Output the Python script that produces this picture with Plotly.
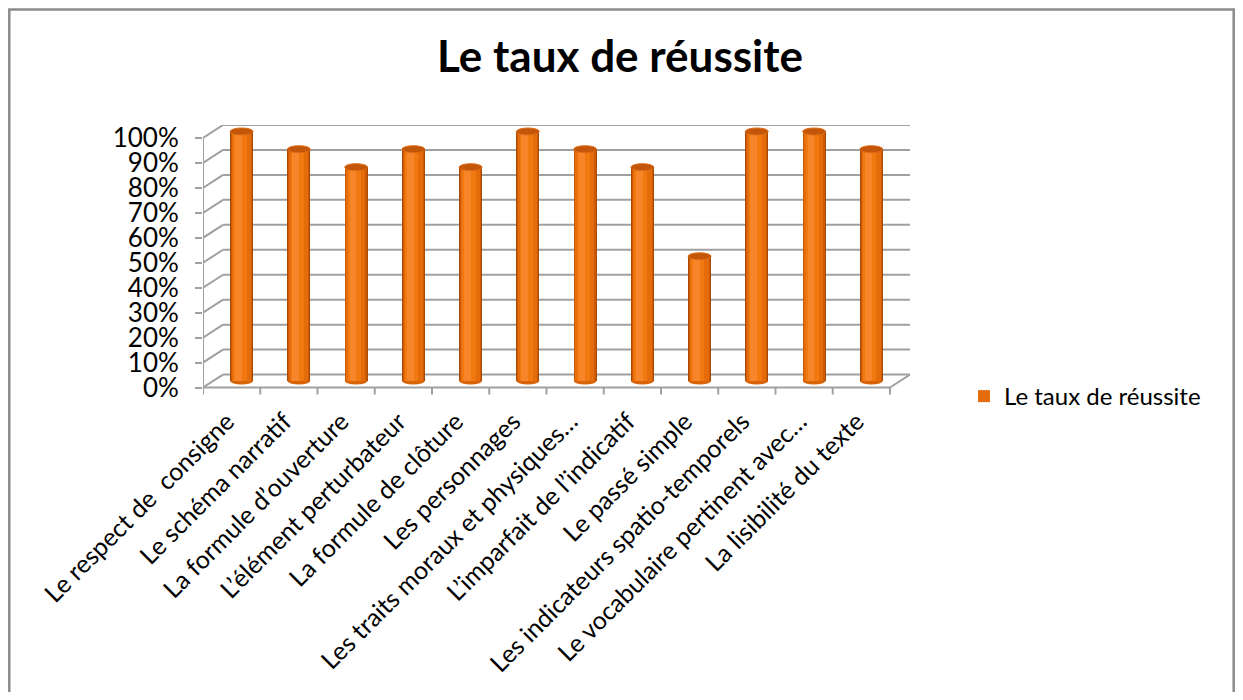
import plotly.graph_objects as go

# ---------------- data ----------------
categories = [
    "Le respect de \u00a0consigne",
    "Le schéma narratif",
    "La formule d’ouverture",
    "L’élément perturbateur",
    "La formule de clôture",
    "Les personnages",
    "Les traits moraux et physiques…",
    "L’imparfait de l’indicatif",
    "Le passé simple",
    "Les indicateurs spatio-temporels",
    "Le vocabulaire pertinent avec…",
    "La lisibilité du texte",
]
values = [100, 92.9, 85.7, 92.9, 85.7, 100, 92.9, 85.7, 50, 100, 100, 92.9]
y_ticks = [0, 10, 20, 30, 40, 50, 60, 70, 80, 90, 100]
y_tick_labels = [f"{t}%" for t in y_ticks]
series_name = "Le taux de réussite"
title_text = "Le taux de réussite"

# ---------------- geometry (screen px, page has an 8px body margin) ----------------
OFF = 8
W, H = 1243 - 2 * OFF, 700 - 2 * OFF
PL, PR = 203 - OFF, 910 - OFF      # plot area in figure px
PT, PB = 125 - OFF, 395.5 - OFF
n = len(categories)
XMIN = -0.5
DX = 0.35              # depth offset (x units)
XMAX = n - 0.5 + DX
DY = 5.2               # depth offset (% units)
YMIN, YMAX = -3, 100 + DY

FONT = "Lato, 'Open Sans', sans-serif"
GRID = "#a0a0a0"


def px_x(p):
    return (p - PL) / (PR - PL)


def px_y(p):
    return (PB - p) / (PB - PT)


fig = go.Figure()

# cylinder body built from layered bars (shading)
layers = [
    (-0.20, 0.40, "#a84a05", False),
    (-0.188, 0.372, "#cc5a04", False),
    (-0.17, 0.33, "#e46c0a", True),
    (-0.145, 0.23, "#f27910", False),
    (-0.115, 0.12, "#f7862a", False),
]
xc = [i + DX / 2 for i in range(n)]
for off, wd, col, leg in layers:
    fig.add_trace(go.Bar(
        x=xc, y=values, base=DY / 2,
        width=wd, offset=off,
        marker=dict(color=col, line=dict(width=0)),
        name=series_name, showlegend=leg,
        hoverinfo="skip" if not leg else None,
    ))

shapes = []
line_style = dict(color=GRID, width=2)
# back wall + side wall gridlines
for t in y_ticks:
    shapes.append(dict(type="line", xref="x", yref="y", layer="below",
                       x0=XMIN, y0=t, x1=XMIN + DX, y1=t + DY, line=line_style))
    shapes.append(dict(type="line", xref="x", yref="y", layer="below",
                       x0=XMIN + DX, y0=t + DY, x1=XMAX, y1=t + DY, line=line_style))
# front floor edge and right floor edge
shapes.append(dict(type="line", xref="x", yref="y", layer="below",
                   x0=XMIN, y0=0, x1=n - 0.5, y1=0, line=line_style))
shapes.append(dict(type="line", xref="x", yref="y", layer="below",
                   x0=n - 0.5, y0=0, x1=XMAX, y1=DY, line=line_style))
# left front vertical edge
shapes.append(dict(type="line", xref="x", yref="y", layer="below",
                   x0=XMIN, y0=0, x1=XMIN, y1=100, line=line_style))
# category tick marks
for k in range(n + 1):
    shapes.append(dict(type="line", xref="x", yref="y", layer="below",
                       x0=k - 0.5, y0=0, x1=k - 0.5, y1=-2.8, line=line_style))
# cylinder bottoms and tops
for c, v in zip(xc, values):
    shapes.append(dict(type="circle", xref="x", yref="y", layer="below",
                       x0=c - 0.20, x1=c + 0.20, y0=DY / 2 - 1.4, y1=DY / 2 + 1.4,
                       fillcolor="#d8640a", line=dict(width=0)))
    shapes.append(dict(type="circle", xref="x", yref="y", layer="above",
                       x0=c - 0.20, x1=c + 0.20, y0=v + DY / 2 - 1.4, y1=v + DY / 2 + 1.4,
                       fillcolor="#c4560a", line=dict(color="#dc6c18", width=1)))
# outer chart border (left, top, right edges; bottom runs off the view)
bx0, bx1 = px_x(1.3), px_x(W - 1.3)
by0, by1 = px_y(H + 5), px_y(1.3)
shapes.append(dict(type="path", xref="paper", yref="paper", layer="above",
                   path=f"M {bx0} {by0} L {bx0} {by1} L {bx1} {by1} L {bx1} {by0}",
                   line=dict(color="#8c8c8c", width=2.5)))

fig.update_layout(
    width=W, height=H, autosize=False,
    margin=dict(l=PL, r=W - PR, t=PT, b=H - PB, pad=0, autoexpand=False),
    paper_bgcolor="white", plot_bgcolor="white",
    barmode="overlay",
    bargap=0,
    font=dict(family=FONT, color="black", size=24),
    title=dict(text=f"<b>{title_text}</b>", xref="container", yref="container",
               x=(620 - OFF) / W, y=1 - (57 - OFF) / H, xanchor="center", yanchor="middle",
               font=dict(family=FONT, size=44, color="black")),
    xaxis=dict(range=[XMIN, XMAX], tickmode="array",
               tickvals=[i - 0.08 for i in range(n)], ticktext=categories,
               tickangle=-45, ticks="", showgrid=False, zeroline=False,
               showline=False, ticklabelstandoff=6, automargin=False,
               tickfont=dict(size=25, family=FONT),
               fixedrange=True),
    yaxis=dict(range=[YMIN, YMAX], tickmode="array", tickvals=y_ticks,
               ticktext=y_tick_labels, ticks="outside", ticklen=7,
               tickcolor=GRID, tickwidth=2, showgrid=False, zeroline=False,
               showline=False, ticklabelstandoff=11, automargin=False,
               tickfont=dict(size=26, family=FONT), fixedrange=True),
    legend=dict(x=px_x(964 - OFF), y=px_y(397 - OFF), xanchor="left", yanchor="middle",
                font=dict(size=24, family=FONT), bgcolor="rgba(0,0,0,0)"),
    shapes=shapes,
)

fig.write_html("out.html")
